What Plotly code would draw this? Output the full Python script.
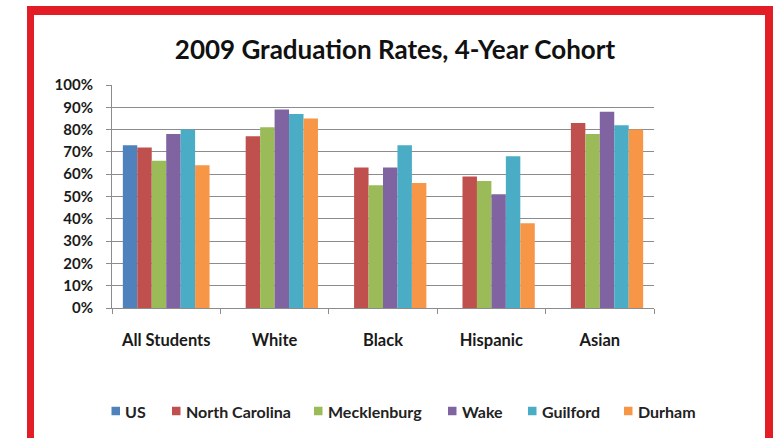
import plotly.graph_objects as go

categories = ["All Students", "White", "Black", "Hispanic", "Asian"]
series_names = ["US", "North Carolina", "Mecklenburg", "Wake", "Guilford", "Durham"]
us = [73, None, None, None, None]
north_carolina = [72, 77, 63, 59, 83]
mecklenburg = [66, 81, 55, 57, 78]
wake = [78, 89, 63, 51, 88]
guilford = [80, 87, 73, 68, 82]
durham = [64, 85, 56, 38, 80]
colors = ["#4F81BD", "#C0504D", "#9BBB59", "#8064A2", "#4BACC6", "#F79646"]
y_ticks = [0, 10, 20, 30, 40, 50, 60, 70, 80, 90, 100]

W, H = 783, 438
L, R, T, B = 112, 129, 85, 130
PW, PH = W - L - R, H - T - B
FONT = "Lato, 'Open Sans', Arial, sans-serif"

def px(x):
    return (x - L) / PW

def py(y):
    return (H - B - y) / PH

fig = go.Figure()
for name, vals, col in zip(series_names, [us, north_carolina, mecklenburg, wake, guilford, durham], colors):
    fig.add_trace(go.Bar(
        name=name, x=categories, y=[None if v is None else v / 100 for v in vals],
        marker=dict(color=col, line=dict(width=0)),
        showlegend=False,
    ))

red = "#E21D25"
shapes = []
for (x0, x1, y0, y1) in [(27, 34, 6, 450), (27, 773, 6, 15), (765, 773, 6, 450)]:
    shapes.append(dict(type="rect", xref="paper", yref="paper",
                       x0=px(x0), x1=px(x1), y0=py(y1), y1=py(y0),
                       fillcolor=red, line=dict(width=0), layer="above"))

# manual legend (square + label), laid out like the original one-row legend
legend_square_x = [111.5, 172, 314, 448, 528, 624]
legend_y = 411
sq = 8.5
annotations = []
for name, col, sx in zip(series_names, colors, legend_square_x):
    shapes.append(dict(type="rect", xref="paper", yref="paper",
                       x0=px(sx), x1=px(sx + sq),
                       y0=py(legend_y + sq / 2), y1=py(legend_y - sq / 2),
                       fillcolor=col, line=dict(width=0)))
    annotations.append(dict(text="<b>%s</b>" % name, xref="paper", yref="paper",
                            x=px(sx + sq + 3), y=py(legend_y), xanchor="left",
                            yanchor="middle", showarrow=False,
                            font=dict(size=16, color="#222222", family=FONT)))

fig.update_layout(
    width=W, height=H,
    margin=dict(l=L, r=R, t=T, b=B),
    paper_bgcolor="white", plot_bgcolor="white",
    barmode="group", bargap=0.2, bargroupgap=0,
    font=dict(family=FONT, color="#1a1a1a"),
    title=dict(text="<b>2009 Graduation Rates, 4-Year Cohort</b>",
               x=(395 / W), xanchor="center", y=1 - 50 / H, yanchor="middle",
               font=dict(size=26, color="#111111", family=FONT)),
    showlegend=False,
    shapes=shapes,
    annotations=annotations,
)
fig.update_xaxes(
    showline=True, linecolor="#8c8c8c", linewidth=1,
    ticks="outside", tickson="boundaries", ticklen=5, tickcolor="#8c8c8c",
    tickfont=dict(size=16.5, color="#1a1a1a", family=FONT),
    tickprefix="<b>", ticksuffix="</b>",
    ticklabelstandoff=17,
)
fig.update_yaxes(
    range=[0, 1], tickvals=[v / 100 for v in y_ticks],
    ticktext=["<b>%d%%</b>" % v for v in y_ticks],
    showgrid=True, gridcolor="#8c8c8c", gridwidth=1,
    showline=True, linecolor="#8c8c8c", linewidth=1,
    ticks="outside", ticklen=5, tickcolor="#8c8c8c",
    tickfont=dict(size=15, color="#1a1a1a", family=FONT),
    ticklabelstandoff=10, zeroline=False,
)
fig.write_html("out.html", config={"displayModeBar": False},
               post_script="document.body.style.margin='0';")
